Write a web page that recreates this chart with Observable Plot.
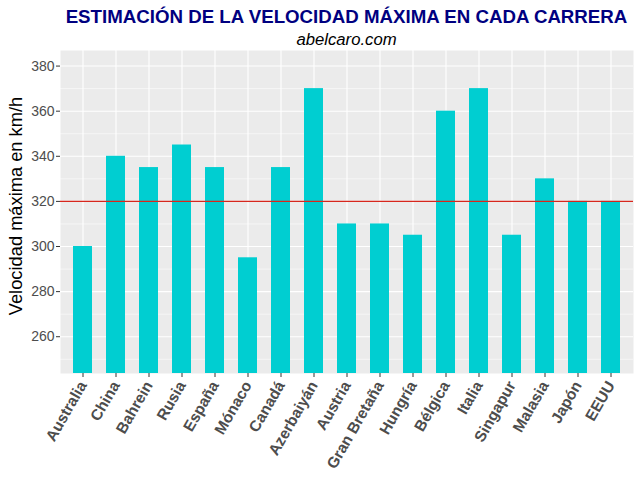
<!DOCTYPE html>
<html>
<head>
<meta charset="utf-8">
<script src="https://cdn.jsdelivr.net/npm/d3@7"></script>
<script src="https://cdn.jsdelivr.net/npm/@observablehq/plot@0.6"></script>
<style>
  html, body { margin: 0; padding: 0; background: #fff; }
  body { width: 640px; height: 477px; position: relative; overflow: hidden; font-family: "Liberation Sans", Arial, sans-serif; }
  #title { position: absolute; left: 60px; width: 573px; top: 5.5px; text-align: center; font-size: 18.7px; line-height: 21px; font-weight: bold; color: #000080; white-space: nowrap; }
  #subtitle { position: absolute; left: 60px; width: 573px; top: 29.5px; text-align: center; font-size: 16.7px; line-height: 19px; font-style: italic; color: #000; white-space: nowrap; }
  #chart { position: absolute; left: 0; top: 50px; }
  #chart svg { overflow: visible; }
</style>
</head>
<body>
<div id="title">ESTIMACIÓN DE LA VELOCIDAD MÁXIMA EN CADA CARRERA</div>
<div id="subtitle">abelcaro.com</div>
<div id="chart"></div>
<script>
const paises = ["Australia", "China", "Bahrein", "Rusia", "España", "Mónaco", "Canadá", "Azerbaiyán", "Austria", "Gran Bretaña", "Hungría", "Bélgica", "Italia", "Singapur", "Malasia", "Japón", "EEUU"];
const velocidades = [300, 340, 335, 345, 335, 295, 335, 370, 310, 310, 305, 360, 370, 305, 330, 320, 320];
const yTicks = [260, 280, 300, 320, 340, 360, 380];
const yMinor = [250, 270, 290, 310, 330, 350, 370];
const referencia = [320];
const yTitulo = "Velocidad máxima en km/h";

const datos = paises.map((p, i) => ({pais: p, vel: velocidades[i]}));

const chart = Plot.plot({
  width: 640,
  height: 427,
  marginTop: 0,
  marginBottom: 104,
  marginLeft: 60,
  marginRight: 7,
  style: {background: "transparent", fontFamily: "'Liberation Sans', Arial, sans-serif"},
  x: {domain: paises, paddingInner: 0.43, paddingOuter: 0.315, label: null},
  y: {domain: [243.7, 386.9], label: null},
  marks: [
    Plot.frame({fill: "#EBEBEB", stroke: null}),
    Plot.ruleY(yMinor, {stroke: "#fff", strokeWidth: 0.55}),
    Plot.ruleY(yTicks, {stroke: "#fff", strokeWidth: 1.1}),
    Plot.ruleX(paises, {x: d => d, stroke: "#fff", strokeWidth: 1.1}),
    Plot.barY(datos, {x: "pais", y: "vel", fill: "#00CED1", clip: true}),
    Plot.ruleY(referencia, {stroke: "#d8261c", strokeWidth: 1.1}),
    Plot.axisY({ticks: yTicks, tickSize: 4, tickPadding: 2, fontSize: 14, color: "#4D4D4D", stroke: "#333", label: null}),
    Plot.axisX({tickSize: 4, tickPadding: 5, tickRotate: -60, fontSize: 15.5, fontWeight: "bold", color: "#4D4D4D", stroke: "#333", label: null}),
    Plot.text([yTitulo], {frameAnchor: "left", textAnchor: "middle", dx: -44.5, dy: -6, rotate: -90, fontSize: 18.3, fill: "#000", text: d => d})
  ]
});
document.getElementById("chart").appendChild(chart);
</script>
</body>
</html>
